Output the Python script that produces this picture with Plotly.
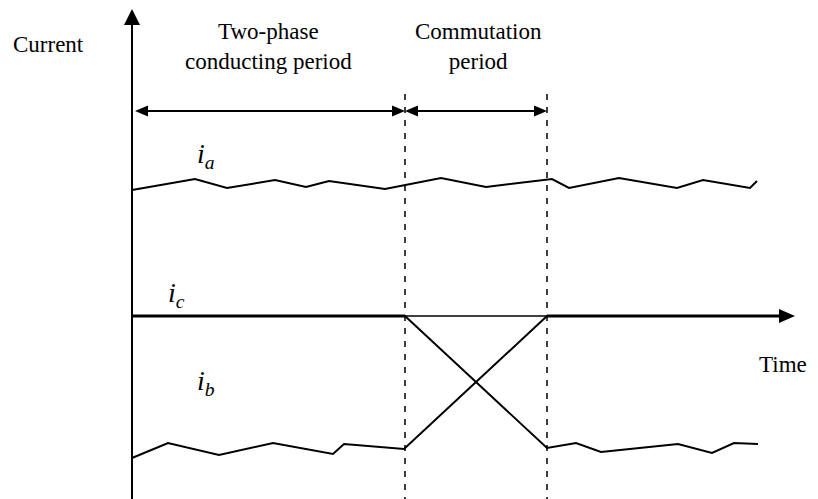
import plotly.graph_objects as go

# ---- data (time offset from current axis, current in arbitrary units) ----
ia_t = [0, 63, 95, 143, 174, 197, 253, 309, 354, 415, 420, 437, 487, 545, 571, 618, 625]
ia_v = [126, 137, 128, 136, 129, 135, 127, 138, 129, 136, 137, 128, 138, 128, 136, 128, 135]

ib_t = [0, 36, 87, 141, 201, 212, 272, 415, 658]
ib_v = [-142, -127, -139, -127, -138, -128, -133, 0, 0]

ic_t = [0, 273, 415, 444, 469, 546, 580, 602, 626]
ic_v = [0, 0, -132, -127, -136, -128, -137, -127, -128]

boundaries = [273, 415]          # start / end of commutation
t_axis_end = 663                 # time axis arrow tip
i_axis_top = 307                 # current axis arrow tip
x_range = [-124, 694]
y_range = [-191, 308]
period_arrow_y = 205
period_labels = ["Two-phase<br>conducting period", "Commutation<br>period"]

FONT = "'Times New Roman', 'Liberation Serif', 'DejaVu Serif', serif"
BLACK = "#000000"

fig = go.Figure()

# currents
for t, v in [(ia_t, ia_v), (ib_t, ib_v), (ic_t, ic_v)]:
    fig.add_trace(go.Scatter(x=t, y=v, mode="lines",
                             line=dict(color=BLACK, width=2), hoverinfo="skip"))
# zero-current portions drawn bolder (they overlap the time axis)
fig.add_trace(go.Scatter(x=ic_t[:2], y=ic_v[:2], mode="lines",
                         line=dict(color=BLACK, width=3), hoverinfo="skip"))
fig.add_trace(go.Scatter(x=[ib_t[-2], ib_t[-1]], y=ib_v[-2:], mode="lines",
                         line=dict(color=BLACK, width=3), hoverinfo="skip"))

shapes = []
# current axis
shapes.append(dict(type="line", xref="x", yref="y", x0=0, x1=0, y0=-200,
                   y1=i_axis_top - 14, line=dict(color=BLACK, width=2)))
shapes.append(dict(type="path", xref="x", yref="y",
                   path=f"M 0 {i_axis_top} L -8 {i_axis_top-16} L 8 {i_axis_top-16} Z",
                   fillcolor=BLACK, line=dict(color=BLACK, width=0)))
# time axis
shapes.append(dict(type="line", xref="x", yref="y", x0=0, x1=t_axis_end - 14, y0=0,
                   y1=0, line=dict(color=BLACK, width=1.5)))
shapes.append(dict(type="path", xref="x", yref="y",
                   path=f"M {t_axis_end} 0 L {t_axis_end-16} 7 L {t_axis_end-16} -7 Z",
                   fillcolor=BLACK, line=dict(color=BLACK, width=0)))
# dashed boundaries
for b in boundaries:
    shapes.append(dict(type="line", xref="x", yref="y", x0=b, x1=b, y0=-200,
                       y1=226, line=dict(color=BLACK, width=1.5, dash="6px,7px")))

# period double arrows
segs = [(3, boundaries[0]), (boundaries[0], boundaries[1])]
hl, hw = 13, 5.5
y = period_arrow_y
for a, b in segs:
    shapes.append(dict(type="line", xref="x", yref="y", x0=a + hl - 2, x1=b - hl + 2,
                       y0=y, y1=y, line=dict(color=BLACK, width=2)))
    shapes.append(dict(type="path", xref="x", yref="y",
                       path=f"M {a} {y} L {a+hl} {y+hw} L {a+hl} {y-hw} Z",
                       fillcolor=BLACK, line=dict(color=BLACK, width=0)))
    shapes.append(dict(type="path", xref="x", yref="y",
                       path=f"M {b} {y} L {b-hl} {y+hw} L {b-hl} {y-hw} Z",
                       fillcolor=BLACK, line=dict(color=BLACK, width=0)))

annotations = []
def txt(x, y, s, size=23):
    annotations.append(dict(x=x, y=y, xref="x", yref="y", text=s, showarrow=False,
                            font=dict(family=FONT, size=size, color=BLACK),
                            xanchor="center", yanchor="middle", align="center"))

txt(-84, 272, "Current")
txt(136, 270, period_labels[0])
txt(346, 270, period_labels[1])
txt(651, -48, "Time")
txt(74, 161, "<i>i<sub>a</sub></i>", 28)
txt(44, 22, "<i>i<sub>c</sub></i>", 28)
txt(74, -66, "<i>i<sub>b</sub></i>", 28)

fig.update_layout(
    width=818, height=499,
    margin=dict(l=0, r=0, t=0, b=0),
    paper_bgcolor="white", plot_bgcolor="white",
    showlegend=False,
    font=dict(family=FONT),
    xaxis=dict(range=x_range, visible=False, fixedrange=True),
    yaxis=dict(range=y_range, visible=False, fixedrange=True),
    shapes=shapes, annotations=annotations,
)

fig.write_html("out.html")
